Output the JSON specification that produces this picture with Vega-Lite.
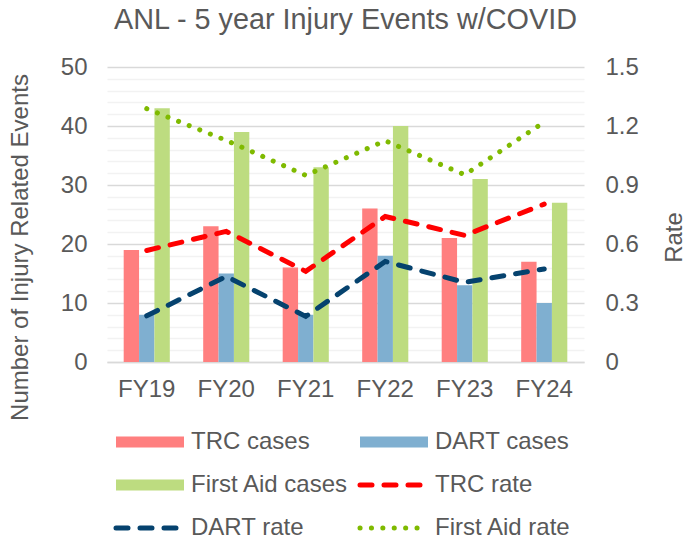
{
  "$schema": "https://vega.github.io/schema/vega-lite/v6.json",
  "width": 477,
  "height": 295,
  "autosize": {"type": "none"},
  "padding": {"left": 107, "top": 67, "right": 101, "bottom": 175},
  "background": "white",
  "config": {"view": {"stroke": null}, "font": "Liberation Sans"},
  "title": {"text": "ANL - 5 year Injury Events w/COVID", "fontSize": 28.8, "fontWeight": "normal", "color": "#595959", "font": "Liberation Sans", "anchor": "middle", "offset": 20},
  "data": {"values": [
    {"fy": "FY19", "series": "TRC cases", "kind": "cases", "value": 19},
    {"fy": "FY19", "series": "DART cases", "kind": "cases", "value": 8},
    {"fy": "FY19", "series": "First Aid cases", "kind": "cases", "value": 43},
    {"fy": "FY20", "series": "TRC cases", "kind": "cases", "value": 23},
    {"fy": "FY20", "series": "DART cases", "kind": "cases", "value": 15},
    {"fy": "FY20", "series": "First Aid cases", "kind": "cases", "value": 39},
    {"fy": "FY21", "series": "TRC cases", "kind": "cases", "value": 16},
    {"fy": "FY21", "series": "DART cases", "kind": "cases", "value": 8},
    {"fy": "FY21", "series": "First Aid cases", "kind": "cases", "value": 33},
    {"fy": "FY22", "series": "TRC cases", "kind": "cases", "value": 26},
    {"fy": "FY22", "series": "DART cases", "kind": "cases", "value": 18},
    {"fy": "FY22", "series": "First Aid cases", "kind": "cases", "value": 40},
    {"fy": "FY23", "series": "TRC cases", "kind": "cases", "value": 21},
    {"fy": "FY23", "series": "DART cases", "kind": "cases", "value": 13},
    {"fy": "FY23", "series": "First Aid cases", "kind": "cases", "value": 31},
    {"fy": "FY24", "series": "TRC cases", "kind": "cases", "value": 17},
    {"fy": "FY24", "series": "DART cases", "kind": "cases", "value": 10},
    {"fy": "FY24", "series": "First Aid cases", "kind": "cases", "value": 27},
    {"fy": "FY19", "series": "TRC rate", "kind": "rate", "value": 0.567},
    {"fy": "FY20", "series": "TRC rate", "kind": "rate", "value": 0.664},
    {"fy": "FY21", "series": "TRC rate", "kind": "rate", "value": 0.461},
    {"fy": "FY22", "series": "TRC rate", "kind": "rate", "value": 0.74},
    {"fy": "FY23", "series": "TRC rate", "kind": "rate", "value": 0.644},
    {"fy": "FY24", "series": "TRC rate", "kind": "rate", "value": 0.803},
    {"fy": "FY19", "series": "DART rate", "kind": "rate", "value": 0.235},
    {"fy": "FY20", "series": "DART rate", "kind": "rate", "value": 0.435},
    {"fy": "FY21", "series": "DART rate", "kind": "rate", "value": 0.232},
    {"fy": "FY22", "series": "DART rate", "kind": "rate", "value": 0.511},
    {"fy": "FY23", "series": "DART rate", "kind": "rate", "value": 0.405},
    {"fy": "FY24", "series": "DART rate", "kind": "rate", "value": 0.473},
    {"fy": "FY19", "series": "First Aid rate", "kind": "rate", "value": 1.288},
    {"fy": "FY20", "series": "First Aid rate", "kind": "rate", "value": 1.127},
    {"fy": "FY21", "series": "First Aid rate", "kind": "rate", "value": 0.949},
    {"fy": "FY22", "series": "First Aid rate", "kind": "rate", "value": 1.125},
    {"fy": "FY23", "series": "First Aid rate", "kind": "rate", "value": 0.952},
    {"fy": "FY24", "series": "First Aid rate", "kind": "rate", "value": 1.22}
  ]},
  "encoding": {
    "x": {
      "field": "fy", "type": "nominal", "title": null,
      "scale": {"paddingInner": 0.42, "paddingOuter": 0.21},
      "axis": {"labelAngle": 0, "labelFontSize": 24, "labelColor": "#595959", "labelPadding": 15, "ticks": false, "domainColor": "#D9D9D9", "domainWidth": 1.5, "grid": false}
    }
  },
  "layer": [
    {
      "transform": [{"filter": {"field": "kind", "equal": "cases"}}],
      "mark": {"type": "bar"},
      "encoding": {
        "xOffset": {"field": "series", "type": "nominal", "scale": {"domain": ["TRC cases", "DART cases", "First Aid cases"], "paddingInner": 0, "paddingOuter": 0}},
        "y": {
          "field": "value", "type": "quantitative",
          "scale": {"domain": [0, 50], "nice": false},
          "axis": {
            "orient": "left",
            "title": "Number of Injury Related Events",
            "titleFontSize": 24, "titleFontWeight": "normal", "titleColor": "#595959",
            "titlePadding": 28, "titleY": 180,
            "values": [0, 2, 4, 6, 8, 10, 12, 14, 16, 18, 20, 22, 24, 26, 28, 30, 32, 34, 36, 38, 40, 42, 44, 46, 48, 50],
            "labelExpr": "datum.value % 10 === 0 ? datum.label : ''",
            "labelFontSize": 24, "labelColor": "#595959", "labelPadding": 20,
            "ticks": false, "domain": false,
            "grid": true,
            "gridColor": {"condition": {"test": "datum.value % 10 === 0", "value": "#D9D9D9"}, "value": "#F2F2F2"},
            "gridWidth": 1.3
          }
        },
        "color": {
          "field": "series", "type": "nominal",
          "scale": {
            "domain": ["TRC cases", "DART cases", "First Aid cases", "TRC rate", "DART rate", "First Aid rate"],
            "range": ["#FF7F7F", "#7FAFD0", "#BDDC80", "#FF0000", "#05426E", "#7FBA00"]
          },
          "legend": {
            "orient": "bottom", "columns": 2, "title": null,
            "symbolSize": 4624, "labelFontSize": 24, "labelColor": "#595959",
            "symbolOffset": 31, "labelOffset": 29, "columnPadding": 1, "rowPadding": 19, "offset": 29, "padding": 0,
            "labelLimit": 400,
            "encode": {
              "symbols": {
                "update": {
                  "shape": {"signal": "indexof(['TRC cases','DART cases','First Aid cases'], datum.value) >= 0 ? 'M-1,-0.165H1V0.165H-1Z' : 'stroke'"},
                  "fill": {"signal": "indexof(['TRC cases','DART cases','First Aid cases'], datum.value) >= 0 ? scale('color', datum.value) : 'transparent'"},
                  "stroke": {"signal": "indexof(['TRC cases','DART cases','First Aid cases'], datum.value) >= 0 ? 'transparent' : scale('color', datum.value)"},
                  "strokeWidth": {"signal": "indexof(['TRC cases','DART cases','First Aid cases'], datum.value) >= 0 ? 0 : 5"},
                  "strokeDash": {"signal": "datum.value === 'First Aid rate' ? [0.1, 11.3] : [12, 12]"},
                  "strokeCap": {"value": "round"},
                  "opacity": {"value": 1},
                  "fillOpacity": {"value": 1},
                  "strokeOpacity": {"value": 1}
                }
              }
            }
          }
        }
      }
    },
    {
      "transform": [{"filter": {"field": "kind", "equal": "rate"}}],
      "mark": {"type": "line", "strokeWidth": 5, "strokeCap": "round"},
      "encoding": {
        "y": {
          "field": "value", "type": "quantitative",
          "scale": {"domain": [0, 1.5], "nice": false},
          "axis": {
            "orient": "right",
            "title": "Rate",
            "titleFontSize": 24, "titleFontWeight": "normal", "titleColor": "#595959",
            "titleAngle": 270, "titlePadding": 48, "titleY": 170,
            "values": [0, 0.3, 0.6, 0.9, 1.2, 1.5],
            "format": ".1~f",
            "labelFontSize": 24, "labelColor": "#595959", "labelPadding": 21,
            "ticks": false, "domain": false, "grid": false
          }
        },
        "color": {
          "field": "series", "type": "nominal",
          "scale": {
            "domain": ["TRC cases", "DART cases", "First Aid cases", "TRC rate", "DART rate", "First Aid rate"],
            "range": ["#FF7F7F", "#7FAFD0", "#BDDC80", "#FF0000", "#05426E", "#7FBA00"]
          }
        },
        "strokeDash": {
          "field": "series", "type": "nominal",
          "scale": {"domain": ["TRC rate", "DART rate", "First Aid rate"], "range": [[12, 12], [12, 12], [0.1, 11.3]]},
          "legend": null
        }
      }
    }
  ],
  "resolve": {"scale": {"y": "independent"}}
}
